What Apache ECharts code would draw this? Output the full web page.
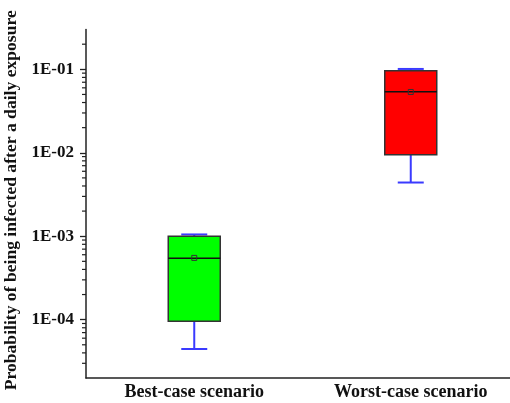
<!DOCTYPE html>
<html>
<head>
<meta charset="utf-8">
<script src="https://cdn.jsdelivr.net/npm/echarts@6/dist/echarts.min.js"></script>
<style>html,body{margin:0;padding:0;background:#fff;}#c{width:510px;height:403px;}</style>
</head>
<body>
<div id="c"></div>
<script>
var categories = ['Best-case scenario', 'Worst-case scenario'];
var whiskerLow = [4.45e-5, 4.4e-3];
var q1 = [9.6e-5, 9.5e-3];
var median = [5.45e-4, 5.4e-2];
var q3 = [1.0e-3, 9.6e-2];
var whiskerHigh = [1.05e-3, 1.01e-1];
var mean = [5.5e-4, 5.35e-2];
var boxColors = ['#00ff00', '#ff0000'];
var yMin = 2e-5, yMax = 0.3;
var minorDecades = [-5, -4, -3, -2, -1];
var minorMultipliers = [2, 3, 4, 5, 6, 7, 8, 9];

var boxData = categories.map(function (c, i) {
  return [i, whiskerLow[i], q1[i], median[i], q3[i], whiskerHigh[i], mean[i]];
});
var minorData = [];
minorDecades.forEach(function (e) {
  minorMultipliers.forEach(function (m) {
    var v = m * Math.pow(10, e);
    if (v > yMin * 1.0001 && v < yMax * 0.9999) minorData.push([0, v]);
  });
});

var serif = '"Liberation Serif", "Times New Roman", serif';
var chart = echarts.init(document.getElementById('c'), null, {renderer: 'canvas'});
chart.setOption({
  animation: false,
  backgroundColor: '#fff',
  grid: {left: 86, top: 29.5, height: 348.5, right: -9, containLabel: false, outerBoundsMode: 'none'},
  xAxis: {
    type: 'category',
    data: categories,
    axisLine: {lineStyle: {color: '#222', width: 1.5}},
    axisTick: {show: false},
    axisLabel: {margin: 5, color: '#111', fontFamily: serif, fontWeight: 'bold', fontSize: 18}
  },
  yAxis: {
    type: 'log',
    logBase: 10,
    min: yMin,
    max: yMax,
    name: 'Probability of being infected after a daily exposure',
    nameLocation: 'middle',
    nameGap: 58,
    nameRotate: 90,
    nameTextStyle: {color: '#111', fontFamily: serif, fontWeight: 'bold', fontSize: 17.6, padding: [0, 0, 0, 7]},
    splitLine: {show: false},
    axisLine: {show: true, lineStyle: {color: '#222', width: 1.5}},
    axisTick: {show: true, inside: false, length: 6, lineStyle: {color: '#222', width: 1.3}},
    axisLabel: {
      showMinLabel: false, showMaxLabel: false, margin: 12,
      color: '#111', fontFamily: serif, fontWeight: 'bold', fontSize: 17,
      formatter: function (v) {
        var e = Math.round(Math.log(v) / Math.LN10);
        if (Math.abs(v / Math.pow(10, e) - 1) > 1e-3) return '';
        var a = Math.abs(e);
        return '1E' + (e < 0 ? '-' : '+') + (a < 10 ? '0' + a : a);
      }
    }
  },
  series: [
    {
      type: 'custom',
      data: minorData,
      encode: {x: 0, y: 1},
      silent: true,
      clip: false,
      renderItem: function (params, api) {
        var y = api.coord([0, api.value(1)])[1];
        var x = params.coordSys.x;
        return {type: 'line', shape: {x1: x - 4, y1: y, x2: x, y2: y},
          style: {stroke: '#222', lineWidth: 1.2}};
      }
    },
    {
      type: 'custom',
      data: boxData,
      encode: {x: 0, y: [1, 2, 3, 4, 5, 6]},
      renderItem: function (params, api) {
        var idx = api.value(0);
        var cx = api.coord([idx, api.value(3)])[0];
        var yLo = api.coord([idx, api.value(1)])[1];
        var yQ1 = api.coord([idx, api.value(2)])[1];
        var yMed = api.coord([idx, api.value(3)])[1];
        var yQ3 = api.coord([idx, api.value(4)])[1];
        var yHi = api.coord([idx, api.value(5)])[1];
        var yMean = api.coord([idx, api.value(6)])[1];
        var hw = 26, cw = 13, blue = '#3a3aff';
        return {
          type: 'group',
          children: [
            {type: 'line', shape: {x1: cx, y1: yHi, x2: cx, y2: yQ3}, style: {stroke: blue, lineWidth: 2}},
            {type: 'line', shape: {x1: cx - cw, y1: yHi, x2: cx + cw, y2: yHi}, style: {stroke: blue, lineWidth: 2}},
            {type: 'line', shape: {x1: cx, y1: yLo, x2: cx, y2: yQ1}, style: {stroke: blue, lineWidth: 2}},
            {type: 'line', shape: {x1: cx - cw, y1: yLo, x2: cx + cw, y2: yLo}, style: {stroke: blue, lineWidth: 2}},
            {type: 'rect', shape: {x: cx - hw, y: yQ3, width: 2 * hw, height: yQ1 - yQ3},
              style: {fill: boxColors[idx], stroke: '#333', lineWidth: 1.5}},
            {type: 'line', shape: {x1: cx - hw, y1: yMed, x2: cx + hw, y2: yMed}, style: {stroke: '#111', lineWidth: 1.5}},
            {type: 'rect', shape: {x: cx - 2.5, y: yMean - 2.5, width: 5, height: 5},
              style: {fill: 'none', stroke: '#333', lineWidth: 1}}
          ]
        };
      }
    }
  ]
});
</script>
</body>
</html>
